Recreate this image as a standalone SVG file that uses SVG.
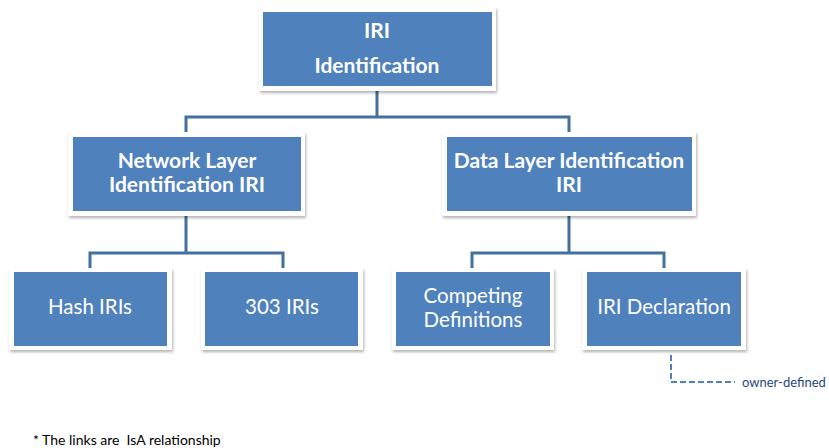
<svg xmlns="http://www.w3.org/2000/svg" width="829" height="448" viewBox="0 0 829 448">
<defs>
<filter id="sh" x="-10%" y="-10%" width="120%" height="130%">
<feDropShadow dx="1" dy="2" stdDeviation="1.5" flood-color="#000" flood-opacity="0.3"/>
</filter>
<style>
.frame{fill:#fff;filter:url(#sh)}
.box{fill:#4f81bd}
.tb{font-family:Lato,"Open Sans",sans-serif;font-weight:bold;font-size:21px;fill:#fff;text-anchor:middle}
.tr{font-family:Lato,"Open Sans",sans-serif;font-size:20.5px;fill:#fff;text-anchor:middle}
.conn{fill:none;stroke:#41719c;stroke-width:3}
.dash{fill:none;stroke:#4f81bd;stroke-width:2;stroke-dasharray:6,3}
.note{font-family:Lato,"Open Sans",sans-serif;font-size:14px;white-space:pre}
</style>
</defs>
<g id="connectors">
<path class="conn" d="M377,91 V117 M186,132 V117 H569 V132"/>
<path class="conn" d="M186,216 V253 M90,268 V253 H283 V268"/>
<path class="conn" d="M569,216 V253 M472,268 V253 H664 V268"/>
<path class="dash" d="M671,355 V382 H735"/>
</g>
<g id="iri-identification">
<rect class="frame" x="259" y="7" width="237" height="84"/>
<rect class="box" x="263" y="12" width="229" height="74"/>
<text class="tb" x="377" y="38">IRI</text>
<text class="tb" x="377" y="73">Identification</text>
</g>
<g id="network-layer">
<rect class="frame" x="68" y="132" width="237" height="84"/>
<rect class="box" x="73" y="137" width="228" height="74"/>
<text class="tb" x="187" y="168">Network Layer</text>
<text class="tb" x="187" y="192">Identification IRI</text>
</g>
<g id="data-layer">
<rect class="frame" x="442" y="132" width="254" height="84"/>
<rect class="box" x="447" y="137" width="245" height="74"/>
<text class="tb" x="569" y="168">Data Layer Identification</text>
<text class="tb" x="569" y="192">IRI</text>
</g>
<g id="hash-iris">
<rect class="frame" x="9" y="268" width="163" height="82"/>
<rect class="box" x="14" y="272" width="153" height="74"/>
<text class="tr" x="90" y="314">Hash IRIs</text>
</g>
<g id="iris-303">
<rect class="frame" x="201" y="268" width="162" height="82"/>
<rect class="box" x="205" y="272" width="153" height="74"/>
<text class="tr" x="282" y="314">303 IRIs</text>
</g>
<g id="competing">
<rect class="frame" x="392" y="268" width="162" height="82"/>
<rect class="box" x="396" y="272" width="154" height="74"/>
<text class="tr" x="473" y="303">Competing</text>
<text class="tr" x="473" y="327">Definitions</text>
</g>
<g id="iri-declaration">
<rect class="frame" x="582" y="268" width="164" height="82"/>
<rect class="box" x="587" y="272" width="154" height="74"/>
<text class="tr" x="664" y="314">IRI Declaration</text>
</g>
<text class="note" x="742" y="387" fill="#1f497d" style="font-size:13px">owner-defined</text>
<text class="note" x="33" y="445" fill="#000" xml:space="preserve">* The links are  IsA relationship</text>
</svg>
